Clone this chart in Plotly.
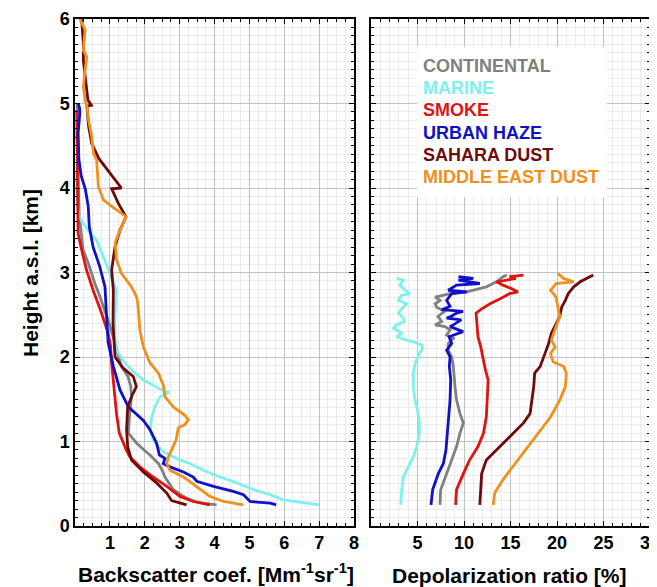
import plotly.graph_objects as go

names = ["CONTINENTAL", "MARINE", "SMOKE", "URBAN HAZE", "SAHARA DUST", "MIDDLE EAST DUST"]
colors = ["#808080", "#7ff0f0", "#e01212", "#1010c8", "#6e0a0a", "#f0901e"]

# ---- Backscatter coefficient profiles (Mm-1 sr-1) vs height (km) ----
cont_bsc_h = [5.0, 4.6, 4.2, 4.0, 3.7, 3.5, 3.27, 3.11, 2.95, 2.87, 2.71, 2.56, 2.4, 2.2, 2.0, 1.89, 1.77, 1.65, 1.53, 1.4, 1.29, 1.1, 0.98, 0.9, 0.84, 0.74, 0.66, 0.58, 0.5, 0.43, 0.38, 0.33, 0.29, 0.27, 0.25]
cont_bsc = [0.06, 0.07, 0.08, 0.1, 0.12, 0.17, 0.23, 0.38, 0.5, 0.57, 0.72, 0.85, 0.98, 1.12, 1.25, 1.33, 1.52, 1.6, 1.62, 1.58, 1.56, 1.53, 1.77, 1.98, 2.15, 2.39, 2.5, 2.58, 2.7, 2.82, 3.0, 3.2, 3.45, 3.68, 4.06]

mar_bsc_h = [4.2, 4.0, 3.85, 3.7, 3.6, 3.5, 3.38, 3.19, 2.99, 2.79, 2.6, 2.4, 2.2, 2.08, 1.93, 1.8, 1.73, 1.63, 1.58, 1.53, 1.41, 1.29, 1.14, 1.02, 0.94, 0.88, 0.78, 0.74, 0.66, 0.58, 0.51, 0.43, 0.37, 0.31, 0.28, 0.25]
mar_bsc = [0.04, 0.05, 0.06, 0.1, 0.2, 0.38, 0.62, 0.81, 1.0, 1.19, 1.16, 1.14, 1.15, 1.19, 1.43, 1.75, 1.96, 2.39, 2.7, 2.44, 2.29, 2.2, 2.15, 2.24, 2.38, 2.53, 3.01, 3.3, 3.68, 4.16, 4.64, 5.12, 5.6, 5.97, 6.5, 7.0]

smk_bsc_h = [4.92, 4.6, 4.3, 4.02, 3.8, 3.66, 3.46, 3.27, 3.03, 2.79, 2.52, 2.28, 2.13, 1.93, 1.73, 1.53, 1.33, 1.1, 0.98, 0.9, 0.82, 0.7, 0.58, 0.47, 0.35, 0.29, 0.25]
smk_bsc = [0.05, 0.06, 0.05, 0.06, 0.07, 0.07, 0.09, 0.19, 0.33, 0.52, 0.76, 0.95, 1.02, 1.05, 1.1, 1.14, 1.19, 1.27, 1.38, 1.47, 1.57, 1.86, 2.24, 2.63, 3.01, 3.39, 3.87]

urb_bsc_h = [5.0, 4.95, 4.89, 4.65, 4.34, 4.14, 3.98, 3.78, 3.54, 3.3, 3.07, 2.83, 2.6, 2.4, 2.17, 1.89, 1.61, 1.41, 1.25, 1.14, 0.98, 0.84, 0.8, 0.74, 0.7, 0.64, 0.58, 0.53, 0.47, 0.41, 0.37, 0.29, 0.27, 0.25]
urb_bsc = [0.09, 0.13, 0.14, 0.09, 0.11, 0.18, 0.3, 0.38, 0.41, 0.52, 0.71, 0.86, 0.89, 0.91, 0.95, 1.1, 1.29, 1.53, 1.96, 2.15, 2.34, 2.42, 2.58, 2.53, 2.72, 3.11, 3.39, 3.49, 3.97, 4.54, 4.83, 5.02, 5.6, 5.77]

sah_bsc_h = [6.0, 5.71, 5.51, 5.32, 5.12, 5.04, 4.98, 4.97, 4.73, 4.53, 4.35, 4.13, 4.0, 3.99, 3.82, 3.66, 3.5, 3.31, 3.03, 2.79, 2.4, 2.0, 1.87, 1.77, 1.65, 1.53, 1.41, 1.14, 0.94, 0.78, 0.64, 0.51, 0.39, 0.3, 0.27, 0.25]
sah_bsc = [0.19, 0.24, 0.24, 0.29, 0.34, 0.37, 0.47, 0.34, 0.39, 0.48, 0.68, 1.09, 1.33, 1.05, 1.24, 1.46, 1.29, 1.15, 1.05, 1.1, 1.09, 1.15, 1.38, 1.67, 1.76, 1.62, 1.51, 1.48, 1.51, 1.62, 1.96, 2.34, 2.63, 2.77, 3.0, 3.2]

med_bsc_h = [6.0, 5.87, 5.63, 5.55, 5.4, 5.2, 5.04, 4.96, 4.8, 4.61, 4.41, 4.33, 4.02, 3.86, 3.74, 3.66, 3.5, 3.35, 3.15, 2.99, 2.83, 2.71, 2.6, 2.32, 2.12, 1.93, 1.81, 1.67, 1.53, 1.41, 1.31, 1.26, 1.2, 1.16, 1.02, 0.9, 0.82, 0.74, 0.66, 0.58, 0.47, 0.35, 0.29, 0.25]
med_bsc = [0.14, 0.29, 0.24, 0.34, 0.29, 0.24, 0.29, 0.34, 0.39, 0.48, 0.53, 0.62, 0.67, 0.81, 1.19, 1.46, 1.29, 1.15, 1.19, 1.33, 1.62, 1.77, 1.81, 1.86, 1.96, 2.15, 2.39, 2.53, 2.58, 2.82, 3.15, 3.25, 3.15, 2.96, 2.9, 2.77, 2.68, 2.63, 2.72, 3.11, 3.49, 3.87, 4.26, 4.83]

# ---- Depolarization ratio profiles (%) vs height (km) ----
cont_dep_h = [0.25, 0.43, 0.62, 0.78, 0.94, 1.1, 1.22, 1.33, 1.49, 1.65, 1.89, 2.0, 2.08, 2.16, 2.22, 2.26, 2.32, 2.36, 2.38, 2.42, 2.48, 2.54, 2.59, 2.63, 2.67, 2.71, 2.75, 2.77, 2.83, 2.89, 2.95, 2.97]
cont_dep = [7.42, 7.49, 8.14, 8.67, 9.2, 9.57, 9.93, 9.57, 9.2, 9.03, 8.85, 8.67, 8.32, 8.3, 8.85, 8.14, 8.5, 7.96, 6.9, 7.6, 7.2, 7.9, 7.06, 6.9, 7.42, 6.9, 8.5, 10.3, 12.4, 13.5, 14.2, 14.6]

mar_dep_h = [0.25, 0.43, 0.58, 0.7, 0.82, 0.94, 1.1, 1.22, 1.37, 1.49, 1.65, 1.81, 1.92, 2.04, 2.1, 2.14, 2.18, 2.2, 2.24, 2.28, 2.3, 2.34, 2.38, 2.42, 2.46, 2.52, 2.57, 2.63, 2.67, 2.73, 2.75, 2.79, 2.85, 2.91, 2.93]
mar_dep = [3.2, 3.3, 3.48, 4.0, 4.55, 4.91, 5.2, 5.2, 5.0, 4.73, 4.55, 4.55, 4.73, 5.2, 5.56, 5.45, 4.55, 3.84, 2.76, 3.3, 3.1, 2.4, 2.76, 3.6, 3.48, 2.94, 3.3, 3.84, 2.94, 3.3, 4.19, 3.66, 3.12, 3.48, 2.76]

smk_dep_h = [0.25, 0.43, 0.62, 0.78, 0.94, 1.1, 1.29, 1.49, 1.73, 1.85, 1.96, 2.12, 2.24, 2.4, 2.52, 2.57, 2.63, 2.69, 2.75, 2.77, 2.81, 2.85, 2.89, 2.91, 2.93, 2.95, 2.97]
smk_dep = [9.1, 9.2, 9.93, 10.6, 11.5, 12.1, 12.4, 12.5, 12.6, 12.3, 12.1, 11.8, 11.5, 11.4, 11.3, 11.9, 12.8, 13.9, 14.9, 15.8, 15.1, 14.2, 13.5, 14.6, 15.6, 14.9, 16.4]

urb_dep_h = [0.25, 0.43, 0.62, 0.74, 0.9, 1.1, 1.29, 1.49, 1.73, 1.89, 2.0, 2.08, 2.16, 2.24, 2.3, 2.34, 2.36, 2.38, 2.44, 2.46, 2.48, 2.52, 2.54, 2.56, 2.6, 2.67, 2.75, 2.77, 2.79, 2.85, 2.87, 2.91, 2.93, 2.95]
urb_dep = [6.45, 6.63, 7.24, 7.78, 8.06, 8.2, 8.32, 8.5, 8.57, 8.42, 8.5, 8.14, 8.67, 8.4, 9.9, 9.03, 8.5, 8.85, 9.7, 8.14, 8.6, 9.2, 9.9, 7.6, 8.5, 8.14, 8.67, 10.3, 8.3, 9.2, 11.7, 9.4, 11.0, 9.4]

sah_dep_h = [0.25, 0.43, 0.62, 0.78, 0.9, 1.06, 1.22, 1.33, 1.49, 1.65, 1.81, 1.89, 2.04, 2.16, 2.28, 2.4, 2.48, 2.59, 2.67, 2.75, 2.83, 2.89, 2.93, 2.97]
sah_dep = [11.7, 11.8, 11.9, 12.4, 13.5, 14.9, 16.4, 17.1, 17.3, 17.5, 17.6, 18.2, 18.7, 19.1, 19.4, 19.9, 20.3, 20.5, 20.9, 21.2, 21.8, 22.5, 23.2, 23.9]

med_dep_h = [0.25, 0.39, 0.55, 0.71, 0.86, 1.06, 1.29, 1.49, 1.65, 1.81, 1.89, 1.94, 2.04, 2.12, 2.2, 2.36, 2.48, 2.59, 2.71, 2.79, 2.87, 2.89, 2.93, 2.99]
med_dep = [13.15, 13.3, 14.2, 15.3, 16.4, 17.8, 19.3, 20.3, 20.9, 21.0, 20.7, 19.6, 19.3, 19.8, 19.4, 19.9, 20.3, 20.1, 19.9, 19.3, 19.9, 21.8, 20.7, 20.1]

bsc_series = [(cont_bsc, cont_bsc_h), (mar_bsc, mar_bsc_h), (smk_bsc, smk_bsc_h),
              (urb_bsc, urb_bsc_h), (sah_bsc, sah_bsc_h), (med_bsc, med_bsc_h)]
dep_series = [(cont_dep, cont_dep_h), (mar_dep, mar_dep_h), (smk_dep, smk_dep_h),
              (urb_dep, urb_dep_h), (sah_dep, sah_dep_h), (med_dep, med_dep_h)]

bsc_ticks = [1, 2, 3, 4, 5, 6, 7, 8]
dep_ticks = [5, 10, 15, 20, 25, 30]
height_ticks = [0, 1, 2, 3, 4, 5, 6]

FONT = "Liberation Sans, Arial, sans-serif"
W, H = 657, 587
OFF = 8  # page body margin offset of the rendered figure
# target screen positions (px) of the plot frames
LEFT_X0, LEFT_X1, RIGHT_X0, RIGHT_X1 = 75, 354, 371, 650
TOP_Y, BOT_Y = 19, 526

ML = LEFT_X0 - OFF
MR = W - (RIGHT_X1 - OFF)
MT = TOP_Y - OFF
MB = H - (BOT_Y - OFF)
PW = W - ML - MR
PH = H - MT - MB


def paper_x(px):
    return (px - OFF - ML) / PW


def paper_y(py):
    return (H - MB - (py - OFF)) / PH


fig = go.Figure()
for (x, h), name, c in zip(bsc_series, names, colors):
    fig.add_trace(go.Scatter(x=x, y=h, mode="lines", name=name,
                             line=dict(color=c, width=2.8), xaxis="x", yaxis="y",
                             showlegend=False))
for (x, h), name, c in zip(dep_series, names, colors):
    fig.add_trace(go.Scatter(x=x, y=h, mode="lines", name=name,
                             line=dict(color=c, width=2.8), xaxis="x2", yaxis="y2",
                             showlegend=False))

major_grid = "#c2c2c2"
minor_grid = "#ececec"
tickfont = dict(family=FONT, size=18, color="black", weight="bold")

common = dict(showline=True, linecolor="black", linewidth=1.5, mirror="ticks",
              ticks="inside", ticklen=5, tickwidth=1.2, tickcolor="black",
              showgrid=True, gridcolor=major_grid, gridwidth=1, zeroline=False,
              tickfont=tickfont, automargin=False)

fig.update_layout(
    width=W, height=H,
    margin=dict(l=ML, r=MR, t=MT, b=MB),
    paper_bgcolor="white", plot_bgcolor="white",
    font=dict(family=FONT),
    xaxis=dict(domain=[0, paper_x(LEFT_X1)], range=[0, 8], tickvals=bsc_ticks,
               minor=dict(dtick=0.25, showgrid=True, gridcolor=minor_grid,
                          ticks="inside", ticklen=3, tickcolor="black"),
               anchor="y", **common),
    yaxis=dict(domain=[0, 1], range=[0, 6], tickvals=height_ticks,
               minor=dict(dtick=0.1, showgrid=True, gridcolor=minor_grid,
                          ticks="inside", ticklen=3, tickcolor="black"),
               anchor="x", **common),
    xaxis2=dict(domain=[paper_x(RIGHT_X0), 1], range=[0, 30], tickvals=dep_ticks,
                minor=dict(dtick=1, showgrid=True, gridcolor=minor_grid,
                           ticks="inside", ticklen=3, tickcolor="black"),
                anchor="y2", **common),
    yaxis2=dict(domain=[0, 1], range=[0, 6], tickvals=height_ticks,
                showticklabels=False,
                minor=dict(dtick=0.1, showgrid=True, gridcolor=minor_grid,
                           ticks="inside", ticklen=3, tickcolor="black"),
                anchor="x2", **common),
)

# legend background box
fig.add_shape(type="rect", xref="paper", yref="paper",
              x0=paper_x(417), x1=paper_x(607), y0=paper_y(197), y1=paper_y(47),
              fillcolor="white", line=dict(width=0), layer="above")

row_y = [65.7, 88, 110.3, 132.6, 155, 177.3]
for name, c, py in zip(names, colors, row_y):
    fig.add_annotation(text=name, xref="paper", yref="paper",
                       x=paper_x(421), y=paper_y(py),
                       xanchor="left", yanchor="middle", showarrow=False,
                       font=dict(family=FONT, size=18, color=c, weight="bold"))

title_font = dict(family=FONT, size=21, color="black", weight="bold")
fig.add_annotation(text="Height a.s.l. [km]", textangle=-90, xref="paper", yref="paper",
                   x=paper_x(30), y=paper_y(273), xanchor="center",
                   yanchor="middle", showarrow=False, font=title_font)
fig.add_annotation(text="Backscatter coef. [Mm<sup>-1</sup>sr<sup>-1</sup>]",
                   xref="paper", yref="paper", x=paper_x(216), y=paper_y(573),
                   xanchor="center", yanchor="middle", showarrow=False, font=title_font)
fig.add_annotation(text="Depolarization ratio [%]",
                   xref="paper", yref="paper", x=paper_x(509), y=paper_y(575),
                   xanchor="center", yanchor="middle", showarrow=False, font=title_font)

fig.write_html("out.html")
